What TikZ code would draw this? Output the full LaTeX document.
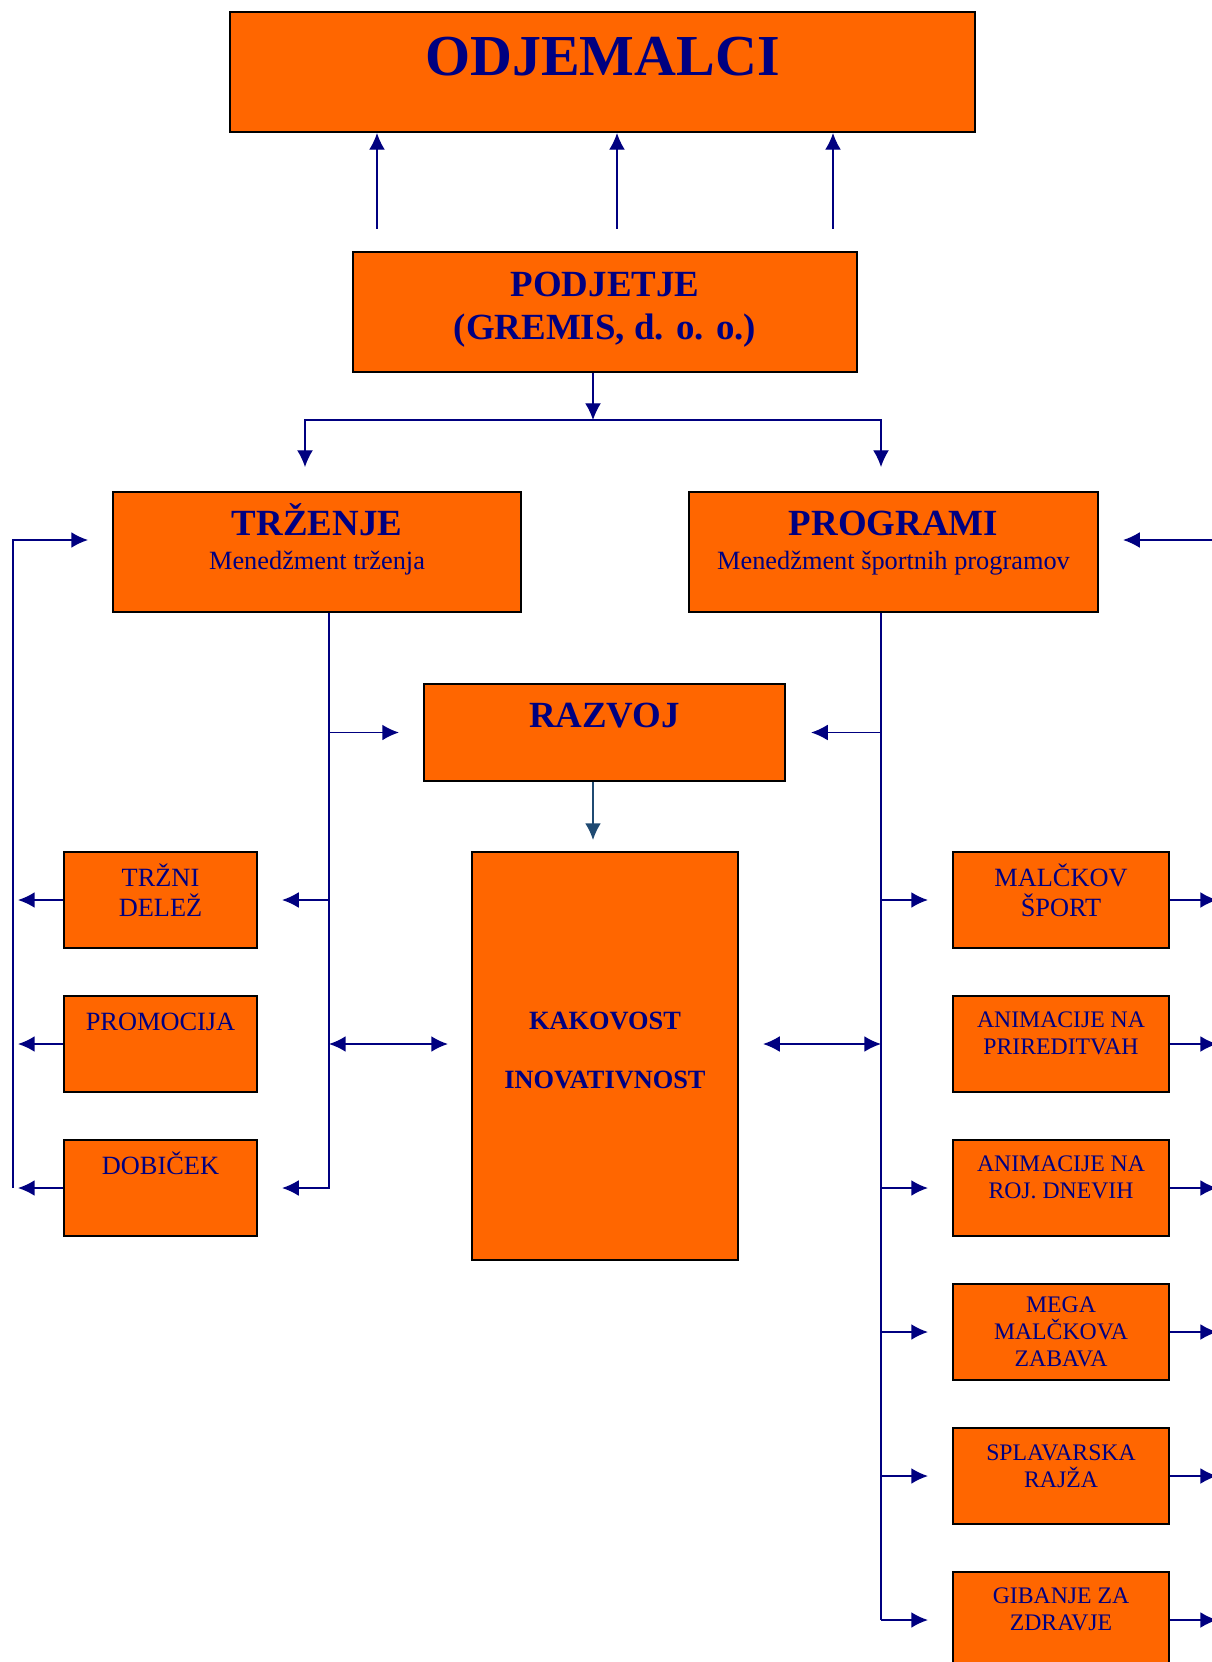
\documentclass[tikz,border=0pt]{standalone}
\usepackage{fontspec}
\setmainfont{Liberation Serif}
\usepackage{tikz}
\usetikzlibrary{%
	arrows.meta,%
	calc,%
	fit
}
\definecolor{oranzna}{HTML}{FF6600}
\definecolor{modra}{HTML}{000080}
\definecolor{temna}{HTML}{1F4A72}

\begin{document}
\begin{tikzpicture}[x=0.02cm,y=-0.02cm,>={Latex[length=9.5pt,width=9pt]},
	box/.style={draw=black,line width=1.2pt,fill=oranzna,inner sep=0pt},
	txt/.style={text=modra,inner sep=0pt,anchor=base,align=center},
	big/.style={txt,font=\fontsize{33}{36}\selectfont\bfseries},
	head/.style={txt,font=\fontsize{21}{19.4}\selectfont\bfseries},
	small/.style={txt,font=\fontsize{15}{17.6}\selectfont},
	smaller/.style={txt,font=\fontsize{13.5}{15.5}\selectfont},
	link/.style={draw=modra,line width=0.9pt}]
				% okvir slike
				\useasboundingbox (0,0) rectangle (1211,1662);
				% glavne skatle (besedilo: base = zadnja vrstica)
				\node[box,fit={(230,12) (975,132)}] (odj) {};
				\node[box,fit={(353,252) (857,372)}] (pod) {};
				\node[box,fit={(113,492) (521,612)}] (trz) {};
				\node[box,fit={(689,492) (1098,612)}] (prog) {};
				\node[box,fit={(424,684) (785,781)}] (razv) {};
				\node[box,fit={(472,852) (738,1260)}] (kak) {};
				\node[big] (odjt) at ($(odj.north)+(0,65)$) {ODJEMALCI};
				\node[head,font=\fontsize{21}{25}\selectfont\bfseries] (podt) at ($(pod.north)+(0,89)$) {PODJETJE\\(GREMIS, d. o. o.)};
				\node[head] (trzt) at ($(trz.north)+(0,79)$) {TRŽENJE\\{\fontsize{15}{19.4}\selectfont\mdseries Menedžment trženja}};
				\node[head] (progt) at ($(prog.north)+(0,79)$) {PROGRAMI\\{\fontsize{15}{19.4}\selectfont\mdseries Menedžment športnih programov}};
				\node[head] (razvt) at ($(razv.north)+(0,45)$) {RAZVOJ};
				\node[small,font=\fontsize{15}{17}\selectfont\bfseries] (kakt) at ($(kak.north)+(0,238)$) {KAKOVOST\\[17pt]INOVATIVNOST};
				% levi stolpec
				\foreach \i/\y/\off/\txt in {1/852/66/{TRŽNI\\DELEŽ},2/996/36/{PROMOCIJA},3/1140/36/{DOBIČEK}}
				{
				\node[box,fit={(64,\y) (257,\y+96)}] (t\i) {};
				\node[small] (tt\i) at ($(t\i.north)+(0,\off)$) {\txt};
				}
				% desni stolpec
				\foreach \i/\y/\sty/\off/\txt in {1/852/small/66/{MALČKOV\\ŠPORT},2/996/smaller/60/{ANIMACIJE NA\\PRIREDITVAH},3/1140/smaller/60/{ANIMACIJE NA\\ROJ. DNEVIH},4/1284/smaller/84/{MEGA\\MALČKOVA\\ZABAVA},5/1428/smaller/61/{SPLAVARSKA\\RAJŽA},6/1572/smaller/60/{GIBANJE ZA\\ZDRAVJE}}
				{
				\node[box,fit={(953,\y) (1169,\y+96)}] (p\i) {};
				\node[\sty] (pt\i) at ($(p\i.north)+(0,\off)$) {\txt};
				\draw[link,->] (p\i.east) -- ($(p\i.east)+(47,0)$);
				}
				% povezave zgoraj
				\foreach \x in {377,617,833}
				\draw[link,line width=0.7pt,->] (\x,229) -- (\x,229 |- odj.south);
				\coordinate (razc) at (593,420);
				\coordinate (ltrz) at (305,467);
				\coordinate (lprog) at (881,467);
				\draw[link,line width=0.7pt,->] (razc |- pod.south) -- (razc);
				\draw[link,line width=0.7pt,->] (razc) -| (ltrz);
				\draw[link,line width=0.7pt,->] (razc) -| (lprog);
				% trzenje
				\coordinate (tsp) at (329,1188);
				\draw[link,->] (trz.south -| tsp) -- (tsp) -- ($(t3.east)+(24,0)$);
				\draw[link,->] (tsp |- razv.west) -- ($(razv.west)+(-24,0)$);
				\draw[link,->] (tsp |- t1.east) -- ($(t1.east)+(24,0)$);
				\draw[link,<->] (tsp |- t2.east) -- ($(kak.west |- t2.east)+(-23,0)$);
				\coordinate (lz) at (13,1188);
				\coordinate (lin) at (88,540);
				\draw[link,->] (lz) |- (lin);
				\foreach \i in {1,2,3}
				\draw[link,->] (t\i.west) -- (18,0 |- t\i.west);
				% programi
				\coordinate (psp) at (881,1620);
				\draw[link,line width=0.6pt] (prog.south -| psp) -- (psp);
				\draw[link,->] (psp |- razv.east) -- ($(razv.east)+(25,0)$);
				\draw[link,<->] ($(kak.east |- p2.west)+(24,0)$) -- (psp |- p2.west);
				\foreach \i in {1,3,4,5,6}
				\draw[link,->] (psp |- p\i.west) -- ($(p\i.west)+(-24,0)$);
				\draw[link,->] (1216,540) -- ($(prog.east)+(24,-12)$);
				% razvoj - kakovost
				\coordinate (rk) at (593,840);
				\draw[link,draw=temna,->] (rk |- razv.south) -- (rk);
			\end{tikzpicture}
\end{document}
